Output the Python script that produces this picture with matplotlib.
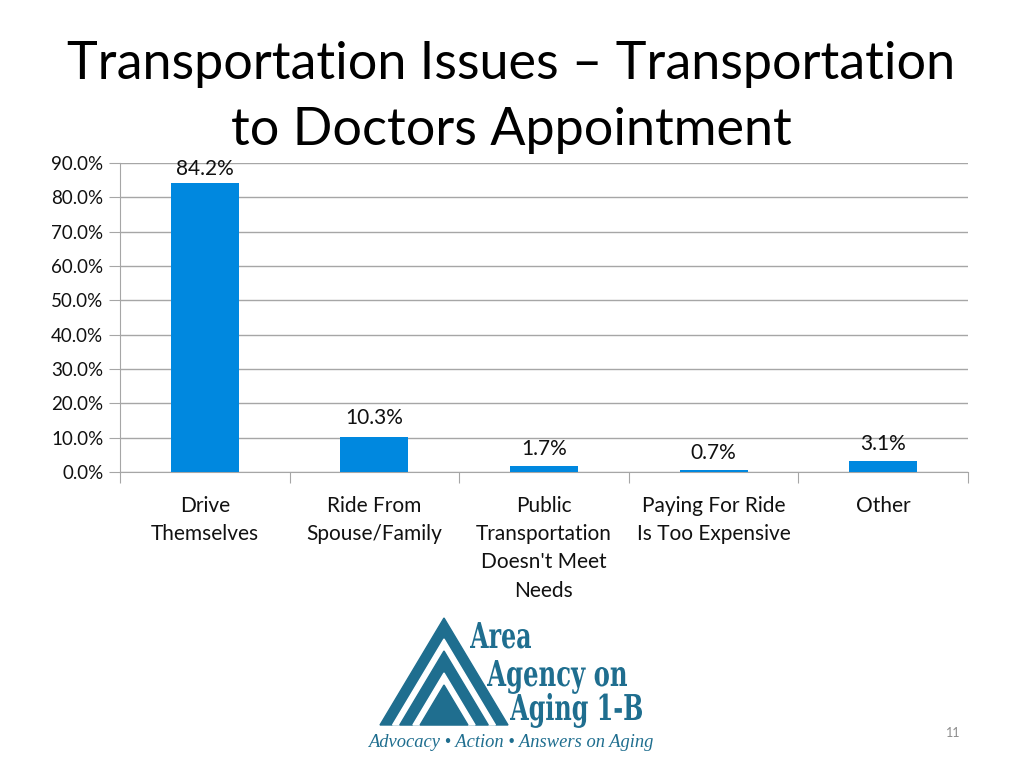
import matplotlib.pyplot as plt
from matplotlib.patches import Polygon, PathPatch
from matplotlib.textpath import TextPath
from matplotlib.font_manager import FontProperties
from matplotlib.transforms import Affine2D

categories = ['Drive\nThemselves', 'Ride From\nSpouse/Family',
              'Public\nTransportation\nDoesn\'t Meet\nNeeds',
              'Paying For Ride\nIs Too Expensive', 'Other']
values = [84.2, 10.3, 1.7, 0.7, 3.1]
y_ticks = [0, 10, 20, 30, 40, 50, 60, 70, 80, 90]

W, H = 1024, 768
plt.rcParams['font.family'] = ['Lato', 'DejaVu Sans']
fig = plt.figure(figsize=(W / 100, H / 100), dpi=100)


def px_axes(x0, y0, x1, y1):
    # pixel box (top-left origin) -> figure axes
    return fig.add_axes([x0 / W, 1 - y1 / H, (x1 - x0) / W, (y1 - y0) / H])


fig.text(511 / W, 1 - 64 / H, 'Transportation Issues \u2013 Transportation',
         ha='center', va='center', fontsize=37.5, color='#000000')
fig.text(511 / W, 1 - 131 / H, 'to Doctors Appointment',
         ha='center', va='center', fontsize=37.5, color='#000000')

ax = px_axes(120, 163, 968, 472)
x = range(len(values))
ax.bar(x, values, width=0.4, color='#0088DF', zorder=3)
ax.set_xlim(-0.5, len(values) - 0.5)
ax.set_ylim(0, 90)
ax.set_yticks(y_ticks)
ax.set_yticklabels(['%.1f%%' % v for v in y_ticks], fontsize=13.5, color='#111111')
ax.grid(axis='y', color='#A6A6A6', linewidth=1, zorder=0)
ax.set_xticks([i + 0.5 for i in range(-1, len(values))])
ax.set_xticklabels([])
ax.tick_params(axis='x', length=8, color='#A6A6A6', direction='out')
ax.tick_params(axis='y', length=8, color='#A6A6A6', direction='out', pad=4)
for s in ['top', 'right']:
    ax.spines[s].set_visible(False)
ax.spines['left'].set_color('#A6A6A6')
ax.spines['bottom'].set_color('#A6A6A6')

offsets = [1.0, 2.5, 2.0, 1.8, 2.0]
for i, v in enumerate(values):
    ax.text(i, v + offsets[i], '%.1f%%' % v, ha='center', va='bottom',
            fontsize=15, color='#111111', clip_on=False)
for i, c in enumerate(categories):
    ax.text(i, -6.9, c, ha='center', va='top', fontsize=15, color='#111111',
            linespacing=1.52, clip_on=False)

# logo
lg = px_axes(360, 610, 670, 760)
lg.set_xlim(360, 670)
lg.set_ylim(760, 610)
lg.axis('off')
blue = '#1F6E8F'
apex_x, base_y = 444, 725
outer_h, outer_hw = 107, 64
for h, col in [(107, blue), (86, 'white'), (74, blue), (52, 'white'), (40, blue)]:
    hw = outer_hw * h / outer_h
    lg.add_patch(Polygon([(apex_x, base_y - h), (apex_x - hw, base_y), (apex_x + hw, base_y)],
                         closed=True, color=col))

logo_font = FontProperties(family='DejaVu Serif', weight='bold')
for s, x0, x1, y_base in [('Area', 470, 531, 648),
                          ('Agency on', 487, 627, 686),
                          ('Aging 1-B', 510, 642, 720)]:
    tp = TextPath((0, 0), s, size=10, prop=logo_font)
    bb = tp.get_extents()
    sx = (x1 - x0) / bb.width
    sy = 26 / 7.3
    tr = Affine2D().translate(-bb.x0, 0).scale(sx, -sy).translate(x0, y_base)
    lg.add_patch(PathPatch(tr.transform_path(tp), color=blue, lw=0))

lg.text(368, 743, 'Advocacy \u2022 Action \u2022 Answers on Aging', fontsize=13.3,
        style='italic', family='Liberation Serif', color=blue, va='center', ha='left')

fig.text(953 / W, 1 - 733 / H, '11', fontsize=9, color='#8C8C8C', ha='center', va='center')

fig.savefig('out.png', dpi=100)
